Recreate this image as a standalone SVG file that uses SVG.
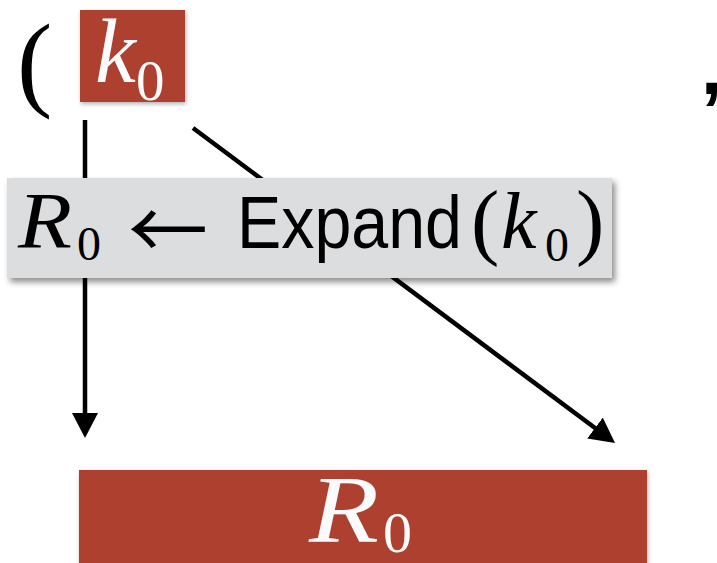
<svg xmlns="http://www.w3.org/2000/svg" width="717" height="563" viewBox="0 0 717 563">
  <defs>
    <style>
      .red { fill: #ad402f; }
      .gray { fill: #dcdddf; }
      .conn { stroke: #000; stroke-width: 4.5; fill: none; }
      .math { font-family: "Liberation Serif", "DejaVu Serif", serif; font-style: italic; }
      .num { font-family: "Liberation Serif", "DejaVu Serif", serif; }
      .sans { font-family: "Liberation Sans", "DejaVu Sans", sans-serif; }
      .white { fill: #fbfbfd; }
    </style>
    <filter id="shadow" x="-10%" y="-20%" width="120%" height="150%">
      <feDropShadow dx="3" dy="4" stdDeviation="3" flood-color="#000" flood-opacity="0.45"/>
    </filter>
    <filter id="shadowLight" x="-10%" y="-20%" width="120%" height="150%">
      <feDropShadow dx="1" dy="2" stdDeviation="2" flood-color="#000" flood-opacity="0.3"/>
    </filter>
    <marker id="arrow" markerUnits="userSpaceOnUse" viewBox="0 -13 26 26" refX="3" refY="0" markerWidth="26" markerHeight="26" orient="auto">
      <path d="M0,-13 L25,0 L0,13 z" fill="#000"/>
    </marker>
  </defs>

  <g id="paren-open">
    <text class="num" x="17" y="97" font-size="106">(</text>
  </g>

  <g id="comma">
    <text class="sans" x="701" y="94" font-size="76" font-weight="bold">,</text>
  </g>

  <g id="connectors">
    <line class="conn" x1="85" y1="120" x2="85" y2="416" marker-end="url(#arrow)"/>
    <line class="conn" x1="193" y1="128" x2="597.4" y2="429.8" marker-end="url(#arrow)"/>
  </g>

  <g id="k0">
    <rect class="red" x="80" y="10" width="105" height="92" filter="url(#shadowLight)"/>
    <text class="math white" x="95" y="82" font-size="92">k</text>
    <text class="num white" x="136" y="100" font-size="57">0</text>
  </g>

  <g id="expand">
    <rect class="gray" x="7" y="178" width="605" height="100" filter="url(#shadow)"/>
    <text class="math" x="18" y="248" font-size="80" textLength="54" lengthAdjust="spacingAndGlyphs">R</text>
    <text class="num" x="77" y="260" font-size="48">0</text>
    <text x="128" y="259" font-size="80" font-family="'Noto Sans CJK SC', 'DejaVu Sans', sans-serif">←</text>
    <text class="sans" x="237" y="248" font-size="74" textLength="225" lengthAdjust="spacingAndGlyphs">Expand</text>
    <text class="num" x="471" y="249" font-size="85">(</text>
    <text class="math" x="501" y="248" font-size="80">k</text>
    <text class="num" x="545" y="261" font-size="48">0</text>
    <text class="num" x="576" y="249" font-size="85">)</text>
  </g>

  <g id="R0">
    <rect class="red" x="79" y="470" width="568" height="100" filter="url(#shadowLight)"/>
    <text class="math white" x="309" y="542" font-size="96" textLength="70" lengthAdjust="spacingAndGlyphs">R</text>
    <text class="num white" x="383" y="552" font-size="58">0</text>
  </g>
</svg>
